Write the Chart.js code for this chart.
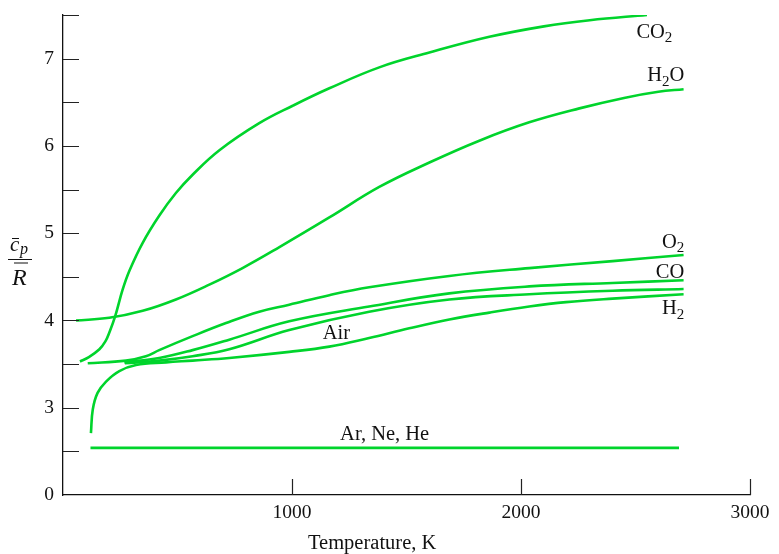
<!DOCTYPE html>
<html>
<head>
<meta charset="utf-8">
<script src="https://cdn.jsdelivr.net/npm/chart.js@4"></script>
<style>
  html, body { margin: 0; padding: 0; background: #fff; }
  canvas { display: block; }
</style>
</head>
<body>
<canvas id="cpChart" width="779" height="554"></canvas>
<script>
// cp/R vs temperature (one T array + one cp/R array per gas)
const co2T  = [74, 113, 159, 185, 202, 228, 260, 290, 348, 420, 493, 566, 683, 857, 1003, 1163, 1381, 1600, 1862, 2100, 2300, 2550];
const co2Cp = [3.53, 3.58, 3.67, 3.76, 3.86, 4.05, 4.35, 4.57, 4.89, 5.20, 5.46, 5.67, 5.95, 6.26, 6.46, 6.66, 6.90, 7.07, 7.25, 7.37, 7.44, 7.50];

const h2oT  = [57, 202, 348, 493, 639, 784, 945, 1163, 1381, 1600, 1818, 2036, 2255, 2450, 2600, 2710];
const h2oCp = [4.00, 4.03, 4.11, 4.24, 4.41, 4.60, 4.84, 5.18, 5.53, 5.81, 6.06, 6.27, 6.43, 6.55, 6.62, 6.65];

const o2T  = [108, 275, 362, 420, 566, 712, 857, 988, 1163, 1337, 1687, 2036, 2400, 2710];
const o2Cp = [3.51, 3.54, 3.59, 3.66, 3.82, 3.97, 4.10, 4.18, 4.29, 4.38, 4.51, 4.60, 4.68, 4.75];

const coT  = [268, 420, 566, 726, 988, 1337, 1687, 2036, 2400, 2710];
const coCp = [3.52, 3.57, 3.66, 3.78, 3.99, 4.16, 4.31, 4.39, 4.43, 4.46];

const airT  = [270, 420, 566, 726, 988, 1337, 1687, 2036, 2400, 2710];
const airCp = [3.51, 3.54, 3.59, 3.67, 3.89, 4.10, 4.24, 4.30, 4.34, 4.36];

const h2T  = [122, 130, 151, 188, 246, 319, 450, 566, 726, 988, 1163, 1337, 1512, 1687, 1862, 2036, 2197, 2400, 2710];
const h2Cp = [2.71, 2.98, 3.17, 3.30, 3.42, 3.49, 3.52, 3.54, 3.57, 3.64, 3.70, 3.80, 3.91, 4.01, 4.09, 4.16, 4.21, 4.25, 4.30];

const arT  = [120, 2690];
const arCp = [2.54, 2.54];

// axis ticks (the y axis is broken: its bottom value is labelled 0)
const xTickValues = [1000, 2000, 3000];
const xTickText   = ['1000', '2000', '3000'];
const yTickValues = [2, 3, 4, 5, 6, 7];
const yTickText   = ['0', '3', '4', '5', '6', '7'];

const GREEN = '#00d42c';
const INK = '#111';
const SERIF = "'Liberation Serif', 'Times New Roman', serif";

const toPoints = (ts, vs) => ts.map((t, i) => ({ x: t, y: vs[i] }));

const series = [
  { label: 'CO2', t: co2T, v: co2Cp },
  { label: 'H2O', t: h2oT, v: h2oCp },
  { label: 'O2', t: o2T, v: o2Cp },
  { label: 'CO', t: coT, v: coCp },
  { label: 'Air', t: airT, v: airCp },
  { label: 'H2', t: h2T, v: h2Cp },
  { label: 'Ar, Ne, He', t: arT, v: arCp }
];

// curve names, anchored in data units
const curveLabels = [
  { text: 'CO', sub: '2', T: 2661, v: 7.24, align: 'right' },
  { text: 'H', sub: '2', tail: 'O', T: 2713, v: 6.74, align: 'right' },
  { text: 'O', sub: '2', T: 2713, v: 4.835, align: 'right' },
  { text: 'CO', T: 2713, v: 4.49, align: 'right' },
  { text: 'H', sub: '2', T: 2713, v: 4.07, align: 'right' },
  { text: 'Air', T: 1134, v: 3.79, align: 'left' },
  { text: 'Ar, Ne, He', T: 1210, v: 2.625, align: 'left' }
];

function drawRich(ctx, item, px, py) {
  const main = '20.5px ' + SERIF, small = '15px ' + SERIF;
  ctx.font = main;
  const w1 = ctx.measureText(item.text).width;
  ctx.font = small;
  const w2 = item.sub ? ctx.measureText(item.sub).width : 0;
  ctx.font = main;
  const w3 = item.tail ? ctx.measureText(item.tail).width : 0;
  let x0 = item.align === 'right' ? px - (w1 + w2 + w3) : px;
  ctx.textAlign = 'left';
  ctx.textBaseline = 'alphabetic';
  ctx.font = main;
  ctx.fillText(item.text, x0, py);
  if (item.sub) {
    ctx.font = small;
    ctx.fillText(item.sub, x0 + w1, py + 4.5);
  }
  if (item.tail) {
    ctx.font = main;
    ctx.fillText(item.tail, x0 + w1 + w2, py);
  }
}

const decorations = {
  id: 'decorations',
  afterDraw(chart) {
    const { ctx, chartArea: a, scales: { x, y } } = chart;
    ctx.save();

    // inward tick marks
    ctx.strokeStyle = '#222';
    ctx.lineWidth = 1.2;
    ctx.beginPath();
    y.ticks.forEach(t => {
      if (t.value <= y.min) return;
      const py = Math.round(y.getPixelForValue(t.value)) + 0.5;
      ctx.moveTo(a.left, py);
      ctx.lineTo(a.left + 16, py);
    });
    x.ticks.forEach(t => {
      const px = Math.round(x.getPixelForValue(t.value)) + 0.5;
      ctx.moveTo(px, a.bottom);
      ctx.lineTo(px, a.bottom - 16);
    });
    ctx.stroke();

    // curve labels
    ctx.fillStyle = INK;
    curveLabels.forEach(l => drawRich(ctx, l, x.getPixelForValue(l.T), y.getPixelForValue(l.v)));

    // x axis title
    ctx.font = '20.5px ' + SERIF;
    ctx.textAlign = 'center';
    ctx.textBaseline = 'alphabetic';
    ctx.fillText('Temperature, K', x.getPixelForValue(1350), a.bottom + 53.5);

    // y axis title: c-bar sub p over R-bar
    ctx.textAlign = 'left';
    ctx.font = 'italic 21px ' + SERIF;
    ctx.fillText('c', 10, 250.5);
    ctx.font = 'italic 16px ' + SERIF;
    ctx.fillText('p', 20, 253.5);
    ctx.font = 'italic 24px ' + SERIF;
    ctx.fillText('R', 12, 285);
    ctx.strokeStyle = INK;
    ctx.lineWidth = 1.2;
    ctx.beginPath();
    ctx.moveTo(8, 259.5); ctx.lineTo(32, 259.5);       // fraction bar
    ctx.moveTo(12, 238.5); ctx.lineTo(19, 238.5);      // bar over c
    ctx.moveTo(14, 263); ctx.lineTo(28, 263);          // bar over R
    ctx.stroke();

    ctx.restore();
  }
};

new Chart(document.getElementById('cpChart'), {
  type: 'line',
  data: {
    datasets: series.map(s => ({
      label: s.label,
      data: toPoints(s.t, s.v),
      borderColor: GREEN,
      borderWidth: 2.6,
      pointRadius: 0,
      fill: false,
      tension: 0.4
    }))
  },
  options: {
    responsive: false,
    animation: false,
    devicePixelRatio: 1,
    layout: { padding: { left: 0, top: 15, right: 29, bottom: 0 } },
    plugins: { legend: { display: false }, tooltip: { enabled: false } },
    scales: {
      x: {
        type: 'linear',
        min: 0,
        max: 3000,
        afterBuildTicks: s => { s.ticks = xTickValues.map(v => ({ value: v })); },
        afterFit: s => { s.height = 59; s.paddingLeft = 0; s.paddingRight = 0; },
        grid: { display: false, drawTicks: false },
        border: { display: true, color: INK, width: 1.3 },
        ticks: {
          color: INK,
          padding: 6,
          maxRotation: 0,
          autoSkip: false,
          font: { family: SERIF, size: 19.5 },
          callback: v => xTickText[xTickValues.indexOf(v)] || ''
        }
      },
      y: {
        type: 'linear',
        min: 2,
        max: 7.5,
        afterFit: s => { s.width = 63; s.paddingTop = 0; s.paddingBottom = 0; },
        grid: { display: false, drawTicks: false },
        border: { display: true, color: INK, width: 1.3 },
        ticks: {
          stepSize: 0.5,
          autoSkip: false,
          color: INK,
          padding: 9,
          font: { family: SERIF, size: 19.5 },
          callback: v => {
            const i = yTickValues.indexOf(v);
            return i >= 0 ? yTickText[i] : '';
          }
        }
      }
    }
  },
  plugins: [decorations]
});
</script>
</body>
</html>
